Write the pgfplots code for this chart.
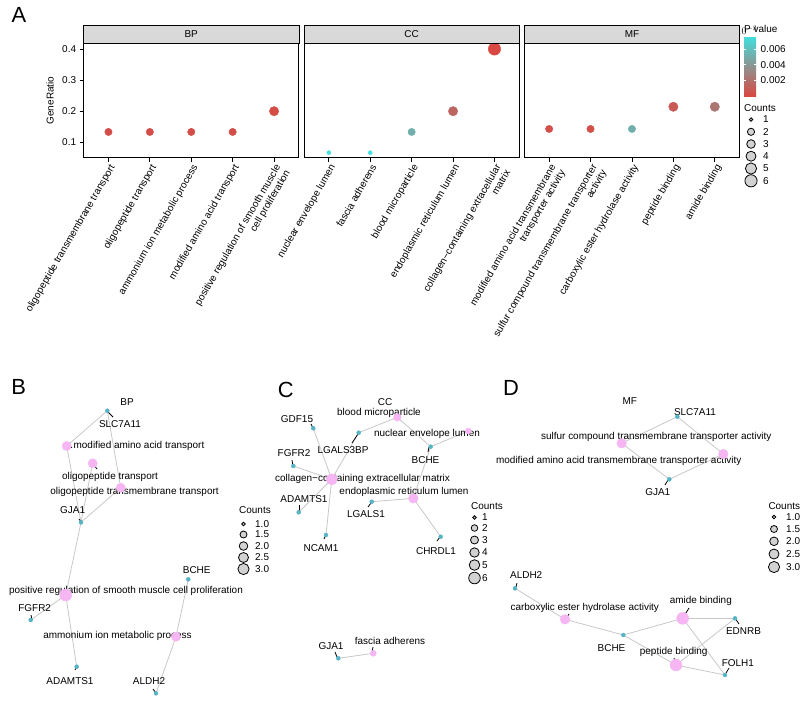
\documentclass[border=0pt]{standalone}
\usepackage{fontspec}
\setmainfont{Liberation Sans}
\usepackage{pgfplots}
\pgfplotsset{compat=1.18}

\definecolor{stripgray}{RGB}{217,217,217}
\definecolor{genecol}{RGB}{86,180,196}
\definecolor{catcol}{RGB}{246,182,244}
\definecolor{edgecol}{RGB}{200,200,200}
\definecolor{leggray}{RGB}{210,210,210}

\newcommand\lf{\fontsize{10}{11}\selectfont}
\newcommand\edgeline[2]{\addplot[edgecol, line width=0.8bp, forget plot] coordinates {#1 #2};}
\newcommand\conn[2]{\addplot[black, line width=0.8bp, forget plot] coordinates {#1 #2};}
\newcommand\legc[3]{\addplot[only marks, mark=*, mark size=#3bp, mark options={draw=black, fill=leggray, line width=0.8bp}, forget plot] coordinates {(#1,#2)};}

\tikzset{lbl/.style={font=\lf, inner sep=0pt, text=black}}

\pgfplotsset{
 colormap={pv}{rgb255=(217,72,66) rgb255=(64,224,224)},
 facet/.style={
   scale only axis, width=215.3bp, height=114.4bp,
   xmin=0.4, xmax=5.6, ymin=0.0505, ymax=0.4183,
   xtick={1,2,3,4,5}, xtick pos=bottom, ytick pos=left,
   tick align=outside, major tick length=4bp,
   tick style={black, line width=0.8bp},
   axis line style={line width=0.9bp},
   colormap name=pv, point meta min=0, point meta max=0.0077,
   ticklabel style={font=\lf},
   xticklabel style={rotate=60, anchor=north east, align=right, inner sep=1bp},
   /pgf/number format/assume math mode=true,
   clip=false,
 },
 dot/.style={scatter, only marks, mark=*, point meta=explicit,
   scatter/use mapped color={draw=mapped color, fill=mapped color}},
}

\begin{document}
\begin{tikzpicture}
\useasboundingbox (0,0) rectangle (811bp,-706bp);

% ---------------- Panel A : BP
\begin{axis}[facet, at={(83.6bp,-157.7bp)}, anchor=south west,
  ytick={0.1,0.2,0.3,0.4}, yticklabels={0.1,0.2,0.3,0.4},
  xticklabels={{oligopeptide transmembrane transport},{oligopeptide transport},{ammonium ion metabolic process},{modified amino acid transport},{positive regulation of smooth muscle\\cell proliferation}}]
\addplot[dot, mark size=3.7bp] coordinates {(1,0.1333) [0.0003] (2,0.1333) [0.0003] (3,0.1333) [0.0003] (4,0.1333) [0.0003]};
\addplot[dot, mark size=4.7bp] coordinates {(5,0.2) [0.0002]};
\end{axis}

% ---------------- Panel A : CC
\begin{axis}[facet, at={(304bp,-157.7bp)}, anchor=south west, ytick=\empty,
  xticklabels={{nuclear envelope lumen},{fascia adherens},{blood microparticle},{endoplasmic reticulum lumen},{collagen−containing extracellular\\matrix}}]
\addplot[dot, mark size=2bp] coordinates {(1,0.0667) [0.0077] (2,0.0667) [0.0077]};
\addplot[dot, mark size=3.7bp] coordinates {(3,0.1333) [0.0052]};
\addplot[dot, mark size=4.7bp] coordinates {(4,0.2) [0.0015]};
\addplot[dot, mark size=6.2bp] coordinates {(5,0.4) [0.00003]};
\end{axis}

% ---------------- Panel A : MF
\begin{axis}[facet, at={(524.3bp,-157.7bp)}, anchor=south west, ytick=\empty,
  xticklabels={{modified amino acid transmembrane\\transporter activity},{sulfur compound transmembrane transporter\\activity},{carboxylic ester hydrolase activity},{peptide binding},{amide binding}},
  colorbar,
  colorbar style={scale only axis, width=12bp, height=60bp,
    at={(1.0204,1.0638)}, anchor=north west,
    ytick={0.002,0.004,0.006}, yticklabels={0.002,0.004,0.006},
    ytick pos=both, yticklabel pos=right,
    tick align=inside, major tick length=2.4bp,
    tick style={white, line width=0.8bp},
    axis line style={draw=none},
    yticklabel style={font=\lf, inner sep=0pt, xshift=4.5bp}}]
\addplot[dot, mark size=3.7bp] coordinates {(1,0.1429) [0.0004] (2,0.1429) [0.0004] (3,0.1429) [0.0052]};
\addplot[dot, mark size=4.7bp] coordinates {(4,0.2143) [0.0009] (5,0.2143) [0.0023]};
\end{axis}

% ---------------- overlay axis in pixel coordinates
\begin{axis}[at={(0,0)}, anchor=north west, scale only axis, width=811bp, height=706bp,
  xmin=0, xmax=811, ymin=0, ymax=706, y dir=reverse, hide axis, clip=false]

% strips of panel A
\draw[fill=stripgray, line width=0.8bp] (axis cs:83.6,25) rectangle (axis cs:298.9,43.3);
\draw[fill=stripgray, line width=0.8bp] (axis cs:304,25) rectangle (axis cs:519.3,43.3);
\draw[fill=stripgray, line width=0.8bp] (axis cs:524.3,25) rectangle (axis cs:739.6,43.3);
\node[lbl] at (axis cs:191.2,34.2) {BP};
\node[lbl] at (axis cs:411.6,34.2) {CC};
\node[lbl] at (axis cs:632,34.2) {MF};
\node[lbl, rotate=90] at (axis cs:50,100.5) {GeneRatio};

% panel letters
\node[font=\fontsize{22}{24}\selectfont, inner sep=0pt] at (axis cs:19,15) {A};
\node[font=\fontsize{22}{24}\selectfont, inner sep=0pt] at (axis cs:18.7,386.7) {B};
\node[font=\fontsize{22}{24}\selectfont, inner sep=0pt] at (axis cs:285.7,390) {C};
\node[font=\fontsize{22}{24}\selectfont, inner sep=0pt] at (axis cs:511,388) {D};

% legend A
\node[lbl, anchor=west] at (axis cs:744,29.3) {P value};
\node[lbl, anchor=west] at (axis cs:744,108) {Counts};
\legc{751}{119.5}{1.7}\legc{751}{131.8}{3.6}\legc{751}{144}{4.3}
\legc{751}{156.2}{5.0}\legc{751}{168.5}{5.6}\legc{751}{180.8}{6.1}
\node[lbl, anchor=west] at (axis cs:763,119.5) {1};
\node[lbl, anchor=west] at (axis cs:763,131.8) {2};
\node[lbl, anchor=west] at (axis cs:763,144) {3};
\node[lbl, anchor=west] at (axis cs:763,156.2) {4};
\node[lbl, anchor=west] at (axis cs:763,168.5) {5};
\node[lbl, anchor=west] at (axis cs:763,180.8) {6};

% ================= Panel B network
\edgeline{(107.3,410.7)}{(66.7,446)}
\edgeline{(107.3,410.7)}{(120.7,487.7)}
\edgeline{(66.7,446)}{(81,522.3)}
\edgeline{(92.7,463.3)}{(81,522.3)}
\edgeline{(120.7,487.7)}{(81,522.3)}
\edgeline{(81,522.3)}{(65.7,595)}
\edgeline{(65.7,595)}{(30.7,620)}
\edgeline{(65.7,595)}{(76.7,666.7)}
\edgeline{(188.3,579.3)}{(176,636.7)}
\edgeline{(176,636.7)}{(156,693.3)}
\addplot[only marks, mark=*, mark size=4.6bp, catcol] coordinates {(66.7,446) (92.7,463.3) (120.7,487.7) (176,636.7)};
\addplot[only marks, mark=*, mark size=6bp, catcol] coordinates {(65.7,595)};
\addplot[only marks, mark=*, mark size=2bp, genecol] coordinates {(107.3,410.7) (81,522.3) (30.7,620) (76.7,666.7) (188.3,579.3) (156,693.3)};
\conn{(108,412)}{(113,417)}
\conn{(68,446)}{(72,447.5)}
\conn{(94,465)}{(97,469)}
\conn{(79,519)}{(82,523)}
\conn{(31,615)}{(32,620)}
\conn{(75,670)}{(77,666)}
\conn{(153,689)}{(156,693)}
\node[lbl] at (axis cs:127,401.7) {BP};
\node[lbl] at (axis cs:120,424) {SLC7A11};
\node[lbl] at (axis cs:139,446) {modified amino acid transport};
\node[lbl] at (axis cs:110,476.5) {oligopeptide transport};
\node[lbl] at (axis cs:134.5,492) {oligopeptide transmembrane transport};
\node[lbl] at (axis cs:72.7,510) {GJA1};
\node[lbl] at (axis cs:126,591) {positive regulation of smooth muscle cell proliferation};
\node[lbl] at (axis cs:34.7,608) {FGFR2};
\node[lbl] at (axis cs:117.5,636) {ammonium ion metabolic process};
\node[lbl] at (axis cs:70,681) {ADAMTS1};
\node[lbl] at (axis cs:196.7,570) {BCHE};
\node[lbl] at (axis cs:149,681.5) {ALDH2};
% legend B
\node[lbl, anchor=west] at (axis cs:239,510.5) {Counts};
\legc{243.5}{524}{1.8}\legc{243.5}{534.5}{3.5}\legc{243.5}{546}{4.3}\legc{243.5}{557.5}{5.0}\legc{243.5}{569}{5.6}
\node[lbl, anchor=west] at (axis cs:255,524) {1.0};
\node[lbl, anchor=west] at (axis cs:255,534.5) {1.5};
\node[lbl, anchor=west] at (axis cs:255,546) {2.0};
\node[lbl, anchor=west] at (axis cs:255,557.5) {2.5};
\node[lbl, anchor=west] at (axis cs:255,569) {3.0};

% ================= Panel C network
\edgeline{(397.3,417.3)}{(358.7,432.7)}
\edgeline{(397.3,417.3)}{(430.7,446.7)}
\edgeline{(430.7,446.7)}{(468.3,431)}
\edgeline{(358.7,432.7)}{(331.7,479.3)}
\edgeline{(313.3,428.3)}{(331.7,479.3)}
\edgeline{(293.3,466)}{(331.7,479.3)}
\edgeline{(298.7,512.3)}{(331.7,479.3)}
\edgeline{(326,535)}{(331.7,479.3)}
\edgeline{(430.7,446.7)}{(413.3,498.3)}
\edgeline{(371.7,501.7)}{(413.3,498.3)}
\edgeline{(440.7,536.7)}{(413.3,498.3)}
\edgeline{(338.3,658.3)}{(373.3,653.3)}
\addplot[only marks, mark=*, mark size=3bp, catcol] coordinates {(468.3,431) (373.3,653.3)};
\addplot[only marks, mark=*, mark size=3.8bp, catcol] coordinates {(397.3,417.3)};
\addplot[only marks, mark=*, mark size=4.8bp, catcol] coordinates {(413.3,498.3)};
\addplot[only marks, mark=*, mark size=5.6bp, catcol] coordinates {(331.7,479.3)};
\addplot[only marks, mark=*, mark size=2bp, genecol] coordinates {(358.7,432.7) (313.3,428.3) (293.3,466) (430.7,446.7) (298.7,512.3) (371.7,501.7) (326,535) (440.7,536.7) (338.3,658.3)};
\conn{(311,424)}{(313,428)}
\conn{(352,443)}{(358,434)}
\conn{(292,460)}{(293,466)}
\conn{(429,447)}{(428,452)}
\conn{(299,505)}{(299,512)}
\conn{(368,507)}{(371,503)}
\conn{(324,539)}{(326,535)}
\conn{(437,541)}{(440,537)}
\conn{(335,652)}{(337,657)}
\conn{(373,647)}{(372,652)}
\node[lbl] at (axis cs:385,401.7) {CC};
\node[lbl] at (axis cs:379,413) {blood microparticle};
\node[lbl] at (axis cs:297,419) {GDF15};
\node[lbl] at (axis cs:427,434) {nuclear envelope lumen};
\node[lbl] at (axis cs:294,453) {FGFR2};
\node[lbl] at (axis cs:343,450.5) {LGALS3BP};
\node[lbl] at (axis cs:425.5,459.7) {BCHE};
\node[lbl] at (axis cs:362.5,478.7) {collagen−containing extracellular matrix};
\node[lbl] at (axis cs:404,492.3) {endoplasmic reticulum lumen};
\node[lbl] at (axis cs:304,499) {ADAMTS1};
\node[lbl] at (axis cs:366,514.5) {LGALS1};
\node[lbl] at (axis cs:321,548) {NCAM1};
\node[lbl] at (axis cs:436,551) {CHRDL1};
\node[lbl] at (axis cs:331,646) {GJA1};
\node[lbl] at (axis cs:390,641) {fascia adherens};
% legend C
\node[lbl, anchor=west] at (axis cs:471,506) {Counts};
\legc{474.5}{517.5}{1.8}\legc{474.5}{528}{3.3}\legc{474.5}{540}{4.0}
\legc{474.5}{552.5}{4.7}\legc{474.5}{565}{5.3}\legc{474.5}{578}{5.8}
\node[lbl, anchor=west] at (axis cs:482,517.5) {1};
\node[lbl, anchor=west] at (axis cs:482,528) {2};
\node[lbl, anchor=west] at (axis cs:482,540) {3};
\node[lbl, anchor=west] at (axis cs:482,552.5) {4};
\node[lbl, anchor=west] at (axis cs:482,565) {5};
\node[lbl, anchor=west] at (axis cs:482,578) {6};

% ================= Panel D network
\edgeline{(677.3,416.7)}{(621.7,443.3)}
\edgeline{(677.3,416.7)}{(723.3,454)}
\edgeline{(621.7,443.3)}{(669.3,479.3)}
\edgeline{(723.3,454)}{(669.3,479.3)}
\edgeline{(515,588.3)}{(565,619.3)}
\edgeline{(565,619.3)}{(623.3,635)}
\edgeline{(623.3,635)}{(682.7,618.3)}
\edgeline{(623.3,635)}{(676,665)}
\edgeline{(682.7,618.3)}{(735,618.3)}
\edgeline{(682.7,618.3)}{(725,675)}
\edgeline{(676,665)}{(735,618.3)}
\edgeline{(676,665)}{(725,675)}
\addplot[only marks, mark=*, mark size=4.8bp, catcol] coordinates {(621.7,443.3) (723.3,454) (565,619.3)};
\addplot[only marks, mark=*, mark size=6bp, catcol] coordinates {(682.7,618.3) (676,665)};
\addplot[only marks, mark=*, mark size=2bp, genecol] coordinates {(677.3,416.7) (669.3,479.3) (515,588.3) (623.3,635) (735,618.3) (725,675)};
\conn{(665,485)}{(668,480)}
\conn{(517,583)}{(516,587)}
\conn{(566,619)}{(569,614)}
\conn{(684,616)}{(689,608)}
\conn{(735,618)}{(739,624)}
\conn{(674,658)}{(675,662)}
\conn{(726,673)}{(729,668)}
\node[lbl] at (axis cs:629.7,401.5) {MF};
\node[lbl] at (axis cs:695,411.7) {SLC7A11};
\node[lbl] at (axis cs:656.3,437.3) {sulfur compound transmembrane transporter activity};
\node[lbl] at (axis cs:618.8,461.2) {modified amino acid transmembrane transporter activity};
\node[lbl] at (axis cs:657.8,492.5) {GJA1};
\node[lbl] at (axis cs:526.2,575.2) {ALDH2};
\node[lbl] at (axis cs:584.8,607.7) {carboxylic ester hydrolase activity};
\node[lbl] at (axis cs:700.8,601) {amide binding};
\node[lbl] at (axis cs:743.5,631) {EDNRB};
\node[lbl] at (axis cs:611.5,648.3) {BCHE};
\node[lbl] at (axis cs:673.7,652) {peptide binding};
\node[lbl] at (axis cs:737.8,662.7) {FOLH1};
% legend D
\node[lbl, anchor=west] at (axis cs:768.3,506) {Counts};
\legc{774}{517}{1.8}\legc{774}{529}{3.5}\legc{774}{541.3}{4.3}\legc{774}{554}{5.0}\legc{774}{567}{5.6}
\node[lbl, anchor=west] at (axis cs:786,517) {1.0};
\node[lbl, anchor=west] at (axis cs:786,529) {1.5};
\node[lbl, anchor=west] at (axis cs:786,541.3) {2.0};
\node[lbl, anchor=west] at (axis cs:786,554) {2.5};
\node[lbl, anchor=west] at (axis cs:786,567) {3.0};
\end{axis}
\end{tikzpicture}
\end{document}
